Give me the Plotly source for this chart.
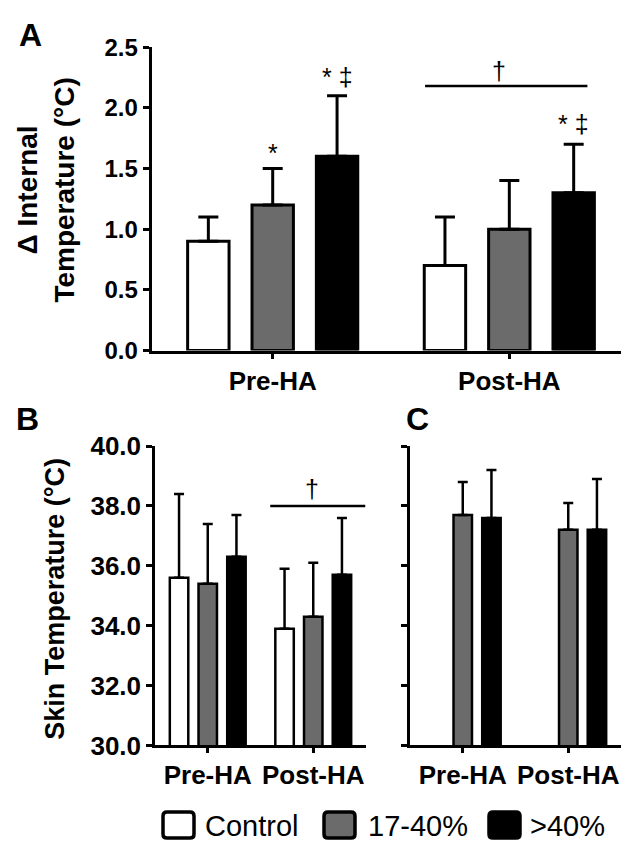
import plotly.graph_objects as go

# ---- data -------------------------------------------------------------
phases = ["Pre-HA", "Post-HA"]
groups = ["Control", "17-40%", ">40%"]
group_colors = ["#ffffff", "#6b6b6b", "#000000"]

# Panel A: change in internal temperature (mean, SD)
internal_control = [0.9, 0.7]
internal_control_sd = [0.2, 0.4]
internal_mid = [1.2, 1.0]
internal_mid_sd = [0.3, 0.4]
internal_high = [1.6, 1.3]
internal_high_sd = [0.5, 0.4]

# Panel B: ungrafted skin temperature
ungrafted_control = [35.6, 33.9]
ungrafted_control_sd = [2.8, 2.0]
ungrafted_mid = [35.4, 34.3]
ungrafted_mid_sd = [2.0, 1.8]
ungrafted_high = [36.3, 35.7]
ungrafted_high_sd = [1.4, 1.9]

# Panel C: grafted skin temperature (no control group)
grafted_mid = [37.7, 37.2]
grafted_mid_sd = [1.1, 0.9]
grafted_high = [37.6, 37.2]
grafted_high_sd = [1.6, 1.7]

# ---- geometry helpers -------------------------------------------------
W, H = 621, 855
FONT = "Arial, 'Liberation Sans', sans-serif"


def fx(p):
    return p / W


def fy(p):
    return 1 - p / H


SPACING = 0.272
BAR_W = 0.175
xpos = [0, 1]

fig = go.Figure()


def add_panel(xa, ya, means, sds, lw, ethick, ecap):
    for k, (m, s) in enumerate(zip(means, sds)):
        if m is None:
            continue
        fig.add_trace(go.Bar(
            x=xpos, y=m, name=groups[k],
            width=BAR_W, offset=(k - 1) * SPACING - BAR_W / 2,
            marker=dict(color=group_colors[k], line=dict(color="black", width=lw)),
            error_y=dict(type="data", symmetric=False, array=s,
                         arrayminus=[0] * len(s), color="black",
                         thickness=ethick, width=ecap),
            xaxis=xa, yaxis=ya, showlegend=False,
        ))


add_panel("x", "y",
          [internal_control, internal_mid, internal_high],
          [internal_control_sd, internal_mid_sd, internal_high_sd], 3, 3, 10)
add_panel("x2", "y2",
          [ungrafted_control, ungrafted_mid, ungrafted_high],
          [ungrafted_control_sd, ungrafted_mid_sd, ungrafted_high_sd], 2.5, 2.5, 5)
add_panel("x3", "y3",
          [None, grafted_mid, grafted_high],
          [None, grafted_mid_sd, grafted_high_sd], 2.5, 2.5, 5)

catfont = dict(family=FONT, size=26, color="black", weight="bold")


def xaxis(domain, rng, anchor, lw):
    return dict(domain=domain, range=rng, anchor=anchor, tickvals=xpos,
                ticktext=phases, showline=True, linecolor="black", linewidth=lw,
                ticks="outside", ticklen=5, tickwidth=lw, tickcolor="black",
                tickfont=catfont, showgrid=False, zeroline=False, fixedrange=True)


def yaxis(domain, rng, dtick, anchor, lw, size, labels=True):
    return dict(domain=domain, range=rng, dtick=dtick, tickformat=".1f",
                anchor=anchor, showline=True, linecolor="black", linewidth=lw,
                ticks="outside", ticklen=6, tickwidth=lw, tickcolor="black",
                tickfont=dict(family=FONT, size=size, color="black", weight="bold"),
                showticklabels=labels, showgrid=False,
                zeroline=False, fixedrange=True)


fig.update_layout(
    width=W, height=H, margin=dict(l=0, r=0, t=0, b=0),
    paper_bgcolor="white", plot_bgcolor="white",
    font=dict(family=FONT, color="black"),
    barmode="overlay", showlegend=False,
    xaxis=xaxis([fx(151.7), 1.0], [-0.5114, 1.472], "y", 3),
    yaxis=yaxis([fy(347.7), fy(33.3)], [0, 2.5], 0.5, "x", 3, 24),
    xaxis2=xaxis([fx(155), fx(366)], [-0.5, 1.5], "y2", 2.5),
    yaxis2=yaxis([fy(757), fy(446.7)], [30, 40], 2, "x2", 2.5, 26),
    xaxis3=xaxis([fx(410), 1.0], [-0.5, 1.5], "y3", 2.5),
    yaxis3=yaxis([fy(757), fy(446.7)], [30, 40], 2, "x3", 2.5, 26, labels=False),
)

ann = []
sigfont = dict(family=FONT, size=25, color="black")

# significance markers, panel A
ann.append(dict(x=0, y=1.63, xref="x", yref="y", text="*", showarrow=False,
                font=sigfont, xanchor="center", yanchor="middle"))
ann.append(dict(x=SPACING, y=2.25, xref="x", yref="y", text="* ‡", showarrow=False,
                font=sigfont, xanchor="center", yanchor="middle"))
ann.append(dict(x=1 + SPACING, y=1.87, xref="x", yref="y", text="* ‡", showarrow=False,
                font=sigfont, xanchor="center", yanchor="middle"))
ann.append(dict(x=0.958, y=2.307, xref="x", yref="y", text="†", showarrow=False,
                font=sigfont, xanchor="center", yanchor="middle"))
# panel B dagger
ann.append(dict(x=0.988, y=38.55, xref="x2", yref="y2", text="†", showarrow=False,
                font=sigfont, xanchor="center", yanchor="middle"))

# subplot headings
headfont = dict(family=FONT, size=25, color="black")
ann.append(dict(x=0.5, y=40.18, xref="x2", yref="y2", text="Ungrafted", showarrow=False,
                font=headfont, xanchor="center", yanchor="middle"))
ann.append(dict(x=0.5, y=40.18, xref="x3", yref="y3", text="Grafted", showarrow=False,
                font=headfont, xanchor="center", yanchor="middle"))

# panel letters
for letter, (px, py) in {"A": (30, 21), "B": (27.5, 419), "C": (417, 419)}.items():
    ann.append(dict(x=fx(px), y=fy(py), xref="paper", yref="paper", text=letter,
                    showarrow=False, xanchor="center", yanchor="middle",
                    font=dict(family=FONT, size=32, color="black", weight="bold")))

# y-axis titles
ann.append(dict(x=fx(46), y=fy(182), xref="paper", yref="paper",
                text="Δ Internal<br>Temperature (°C)", textangle=-90,
                showarrow=False, xanchor="center", yanchor="middle",
                font=dict(family=FONT, size=28, color="black", weight="bold")))
ann.append(dict(x=fx(55), y=fy(605), xref="paper", yref="paper",
                text="Skin Temperature (°C)", textangle=-90,
                showarrow=False, xanchor="center", yanchor="middle",
                font=dict(family=FONT, size=27, color="black", weight="bold")))

shapes = []
# comparison bars
shapes.append(dict(type="line", xref="x", yref="y", x0=0.644, x1=1.33, y0=2.18, y1=2.18,
                   line=dict(color="black", width=2.5)))
shapes.append(dict(type="line", xref="x2", yref="y2", x0=0.592, x1=1.493, y0=38.0, y1=38.0,
                   line=dict(color="black", width=2.5)))

# legend: rounded swatches plus labels
legend_items = [(163, 203), (324, 366), (489, 528)]
y0p, y1p = 826, 853
r = 4
for (bx, tx), name, col in zip(legend_items, groups, group_colors):
    x0, x1 = fx(bx), fx(bx + 31)
    ya, yb = fy(y1p), fy(y0p)
    rx, ry = r / W, r / H
    path = (f"M {x0 + rx},{ya} L {x1 - rx},{ya} Q {x1},{ya} {x1},{ya + ry} "
            f"L {x1},{yb - ry} Q {x1},{yb} {x1 - rx},{yb} L {x0 + rx},{yb} "
            f"Q {x0},{yb} {x0},{yb - ry} L {x0},{ya + ry} Q {x0},{ya} {x0 + rx},{ya} Z")
    shapes.append(dict(type="path", xref="paper", yref="paper", path=path,
                       fillcolor=col, line=dict(color="black", width=3.5)))
    ann.append(dict(x=fx(tx), y=fy(840), xref="paper", yref="paper", text=name,
                    showarrow=False, xanchor="left", yanchor="middle",
                    font=dict(family=FONT, size=29, color="black")))

fig.update_layout(annotations=ann, shapes=shapes)
fig.write_html("out.html")
